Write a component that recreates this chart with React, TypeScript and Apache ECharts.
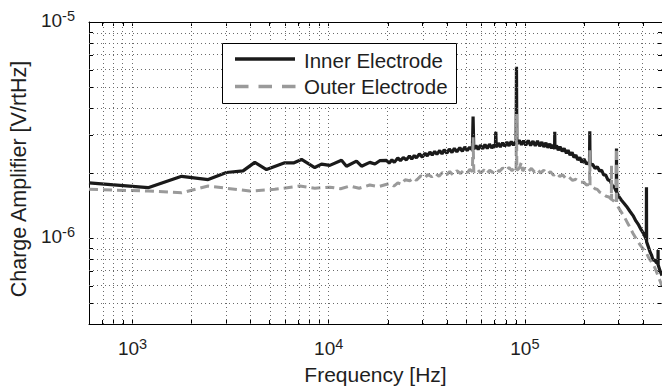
import React, { useEffect, useRef } from "react";
import * as echarts from "echarts";

// ---------- data ----------
const seriesNames = ["Inner Electrode", "Outer Electrode"];
const xAxisTitle = "Frequency [Hz]";
const yAxisTitle = "Charge Amplifier [V/rtHz]";

const xMin = 600;
const xMax = 5e5;
const yMin = 4e-7;
const yMax = 1e-5;

const xLabelDecades = [3, 4, 5];
const yLabelDecades = [-6, -5];

const innerFreq = [
  600, 1200, 1780, 2430, 3010, 3660, 4200, 4820, 5970, 6660, 7270, 8490, 9190,
  10130, 11620, 12320, 13860, 14700, 16200, 17200, 18200,
  19700, 20300, 21000, 21600, 22500, 23200, 24000, 24900, 25800, 26500, 27300,
  28000, 29000, 30000, 31000, 31800, 32800, 33700, 34700, 35600, 36800, 37800,
  38800, 40000, 41200, 42500, 43700, 45000, 46600, 48000, 49400, 50800, 52300,
  54000, 54450, 54900, 56300, 57800, 59300, 61000, 62600, 64300, 66000, 67800,
  69500, 70700, 71070, 71500, 73200, 75000, 77000, 79000, 81000, 83000, 85200,
  87400, 89500, 90200, 90620, 91000, 93500, 96000, 98500, 101000, 104000,
  107000, 110000, 113000, 116000, 119000, 122000, 125000, 128000, 131000,
  134000, 137000, 139500, 141700, 142000, 142300, 145000, 148000, 151000,
  155000, 158500, 162900, 166000, 170000, 174000, 178000, 182000, 186000,
  190500, 195000, 200000, 206000, 213500, 214200, 214900, 221000, 228000,
  234000, 240800, 246000, 252000, 258000, 265000, 272000, 280000, 286000,
  292500, 293100, 293700, 301000, 310000, 320000, 330000, 343000, 356000,
  368000, 380000, 392000, 405000, 416000, 416700, 417400, 426000, 435000,
  443000, 450000, 460000, 468000, 477000, 477500, 478000, 490000, 500000,
];
const innerAmp = [
  1.8e-6, 1.71e-6, 1.93e-6, 1.865e-6, 2.01e-6, 2.045e-6, 2.24e-6, 2.075e-6,
  2.23e-6, 2.23e-6, 2.31e-6, 2.12e-6, 2.2e-6, 2.17e-6, 2.29e-6, 2.15e-6,
  2.27e-6, 2.15e-6, 2.24e-6, 2.2e-6, 2.28e-6,
  2.29e-6, 2.22e-6, 2.3e-6, 2.24e-6, 2.35e-6, 2.28e-6, 2.36e-6, 2.3e-6,
  2.4e-6, 2.32e-6, 2.41e-6, 2.35e-6, 2.45e-6, 2.37e-6, 2.47e-6, 2.4e-6,
  2.5e-6, 2.42e-6, 2.52e-6, 2.44e-6, 2.54e-6, 2.45e-6, 2.56e-6, 2.47e-6,
  2.58e-6, 2.49e-6, 2.6e-6, 2.51e-6, 2.62e-6, 2.52e-6, 2.64e-6, 2.54e-6,
  2.63e-6, 2.56e-6, 3.65e-6, 2.58e-6, 2.68e-6, 2.57e-6, 2.69e-6, 2.59e-6,
  2.71e-6, 2.6e-6, 2.72e-6, 2.61e-6, 2.7e-6, 2.62e-6, 3.1e-6, 2.64e-6,
  2.75e-6, 2.64e-6, 2.76e-6, 2.66e-6, 2.78e-6, 2.67e-6, 2.8e-6, 2.69e-6,
  2.79e-6, 2.7e-6, 6.2e-6, 2.72e-6, 2.84e-6, 2.7e-6, 2.82e-6, 2.69e-6,
  2.83e-6, 2.68e-6, 2.81e-6, 2.67e-6, 2.82e-6, 2.66e-6, 2.78e-6, 2.64e-6,
  2.76e-6, 2.62e-6, 2.73e-6, 2.6e-6, 2.7e-6, 2.58e-6, 3.1e-6, 2.62e-6,
  2.68e-6, 2.55e-6, 2.65e-6, 2.52e-6, 2.6e-6, 2.47e-6, 2.55e-6, 2.42e-6,
  2.49e-6, 2.36e-6, 2.42e-6, 2.3e-6, 2.36e-6, 2.24e-6, 2.32e-6, 2.2e-6,
  2.25e-6, 3.12e-6, 2.17e-6, 2.2e-6, 2.1e-6, 2.14e-6, 2.04e-6, 2.06e-6,
  1.96e-6, 1.96e-6, 1.86e-6, 1.84e-6, 1.74e-6, 1.72e-6, 1.64e-6, 2.6e-6,
  1.63e-6, 1.56e-6, 1.5e-6, 1.45e-6, 1.4e-6, 1.33e-6, 1.27e-6, 1.2e-6,
  1.15e-6, 1.09e-6, 1.04e-6, 9.8e-7, 1.72e-6, 9.6e-7, 9.1e-7, 8.6e-7,
  8.3e-7, 7.9e-7, 7.9e-7, 7.7e-7, 7.6e-7, 8.8e-7, 7.5e-7, 7.0e-7, 6.7e-7,
];

const outerFreq = [
  600, 1200, 1780, 2430, 3010, 3960, 5310, 7120, 8490, 10130, 11500, 12800,
  14300, 16200, 18000, 20500, 21500, 22500, 23500, 24500, 25900, 27000, 28000,
  29500, 30800, 32000, 33500, 35000, 36500, 38000, 39700, 41400, 43000, 45000,
  47000, 49000, 51000, 52400, 54000, 54450, 54900, 57000, 59500, 62000, 64000,
  66200, 68500, 71000, 74000, 77000, 79900, 83000, 86000, 88500, 90200, 90620,
  91000, 93500, 96000, 97500, 100000, 104000, 108000, 112000, 116000, 120000,
  125000, 130000, 135000, 140000, 145000, 150600, 156000, 162000, 168000,
  175000, 182000, 190500, 200000, 206000, 213500, 214200, 214900, 221000,
  228000, 234000, 240800, 250000, 260000, 268000, 276000, 276400, 276800,
  285000, 292500, 293100, 293700, 305000, 320000, 338000, 356000, 372000,
  390000, 405000, 416700, 428000, 440000, 459300, 480000, 500000,
];
const outerAmp = [
  1.68e-6, 1.65e-6, 1.62e-6, 1.74e-6, 1.7e-6, 1.65e-6, 1.68e-6, 1.74e-6,
  1.7e-6, 1.72e-6, 1.69e-6, 1.74e-6, 1.7e-6, 1.76e-6, 1.73e-6, 1.79e-6,
  1.74e-6, 1.8e-6, 1.77e-6, 1.86e-6, 1.84e-6, 1.9e-6, 1.85e-6, 1.94e-6,
  1.89e-6, 1.97e-6, 1.92e-6, 1.99e-6, 1.93e-6, 2.01e-6, 1.95e-6, 2.03e-6,
  1.96e-6, 2.05e-6, 1.99e-6, 2.07e-6, 2.01e-6, 2.08e-6, 2.03e-6, 2.93e-6,
  2.02e-6, 2.09e-6, 2.0e-6, 2.07e-6, 1.99e-6, 2.06e-6, 2.01e-6, 2.09e-6,
  2.03e-6, 2.11e-6, 2.05e-6, 2.12e-6, 2.05e-6, 2.11e-6, 2.05e-6, 3.75e-6,
  2.06e-6, 2.1e-6, 2.24e-6, 2.04e-6, 2.11e-6, 2.03e-6, 2.1e-6, 2.02e-6,
  2.08e-6, 2.0e-6, 2.06e-6, 1.98e-6, 2.03e-6, 1.95e-6, 2.0e-6, 1.93e-6,
  1.96e-6, 1.88e-6, 1.91e-6, 1.85e-6, 1.87e-6, 1.81e-6, 1.81e-6, 1.76e-6,
  1.77e-6, 2.55e-6, 1.74e-6, 1.73e-6, 1.69e-6, 1.68e-6, 1.63e-6, 1.6e-6,
  1.56e-6, 1.55e-6, 1.51e-6, 2.17e-6, 1.51e-6, 1.48e-6, 1.44e-6, 2.6e-6,
  1.43e-6, 1.35e-6, 1.26e-6, 1.15e-6, 1.05e-6, 9.8e-7, 9.2e-7, 8.8e-7,
  8.5e-7, 8.1e-7, 7.8e-7, 7.3e-7, 6.6e-7, 6.0e-7,
];

// ---------- helpers ----------
const FONT = '"Liberation Sans", Arial, Helvetica, sans-serif';
const TEXT = "#1e1e1e";
const INNER_COLOR = "#1a1a1a";
const OUTER_COLOR = "#9a9a9a";

const lg = (v: number) => Math.log10(v);

// 1..9 x 10^n positions strictly inside (min, max), in log10 space
function logGrid(min: number, max: number): number[] {
  const out: number[] = [];
  for (let e = Math.floor(lg(min)); e <= Math.ceil(lg(max)); e++) {
    for (let m = 1; m <= 9; m++) {
      const v = m * Math.pow(10, e);
      if (v > min * 1.0001 && v < max * 0.9999) out.push(lg(v));
    }
  }
  return out;
}

const toPairs = (fs: number[], as: number[]) => fs.map((f, i) => [lg(f), lg(as[i])]);

export default function App() {
  const ref = useRef<HTMLDivElement>(null);

  useEffect(() => {
    if (!ref.current) return;
    const chart = echarts.init(ref.current, undefined, { renderer: "svg" });

    const lx0 = lg(xMin), lx1 = lg(xMax), ly0 = lg(yMin), ly1 = lg(yMax);
    const xGrid = logGrid(xMin, xMax);
    const yGrid = logGrid(yMin, yMax);

    const rich = {
      b: { fontSize: 19, lineHeight: 22, fontFamily: FONT, color: TEXT, verticalAlign: "bottom" },
      s: { fontSize: 14.5, lineHeight: 13, fontFamily: FONT, color: TEXT, verticalAlign: "top" },
    };
    const fmt = (v: number) => `{b|10}{s|${Math.round(v)}}`;

    const axisLine = { show: true, onZero: false, lineStyle: { color: "#000", width: 1 } };
    const tick = (vals: number[]) => ({
      show: true,
      inside: true,
      length: 4,
      customValues: vals,
      lineStyle: { color: "#000", width: 1 },
    });
    const gridStyle = { type: [1, 3], color: "#6a6a6a", width: 1 };

    chart.setOption({
      animation: false,
      backgroundColor: "#fff",
      textStyle: { fontFamily: FONT },
      grid: {
        left: 89,
        right: 0,
        top: 22,
        bottom: 62,
        containLabel: false,
        outerBoundsMode: "none",
      },
      xAxis: [
        {
          type: "value",
          position: "bottom",
          min: lx0,
          max: lx1,
          axisLine,
          axisTick: tick(xGrid),
          splitLine: { show: false },
          axisLabel: {
            show: true,
            customValues: xLabelDecades,
            formatter: fmt,
            rich,
            margin: 12,
          },
          name: xAxisTitle,
          nameLocation: "middle",
          nameGap: 40,
          nameTextStyle: { fontSize: 21, color: TEXT, fontFamily: FONT },
        },
        {
          type: "value",
          position: "top",
          min: lx0,
          max: lx1,
          axisLine,
          axisTick: tick(xGrid),
          splitLine: { show: false },
          axisLabel: { show: false },
        },
      ],
      yAxis: [
        {
          type: "value",
          position: "left",
          min: ly0,
          max: ly1,
          axisLine,
          axisTick: tick(yGrid),
          splitLine: { show: false },
          axisLabel: {
            show: true,
            customValues: yLabelDecades,
            formatter: fmt,
            rich,
            margin: 14,
            padding: [0, 0, 6, 0],
          },
          name: yAxisTitle,
          nameLocation: "middle",
          nameRotate: 90,
          nameGap: 56,
          nameTextStyle: {
            fontSize: 21.5,
            color: TEXT,
            fontFamily: FONT,
            padding: [0, 12, 0, 0],
          },
        },
        {
          type: "value",
          position: "right",
          min: ly0,
          max: ly1,
          axisLine,
          axisTick: tick(yGrid),
          splitLine: { show: false },
          axisLabel: { show: false },
        },
      ],
      series: [
        {
          name: "grid",
          type: "line",
          data: [[lx0, ly0]],
          symbol: "none",
          lineStyle: { width: 0, opacity: 0 },
          silent: true,
          z: 1,
          markLine: {
            silent: true,
            symbol: ["none", "none"],
            label: { show: false },
            emphasis: { disabled: true },
            lineStyle: gridStyle,
            data: [
              ...xGrid.map((v) => ({ xAxis: v })),
              ...yGrid.map((v) => ({ yAxis: v })),
            ],
          },
        },
        {
          name: seriesNames[0],
          type: "line",
          data: toPairs(innerFreq, innerAmp),
          symbol: "none",
          showSymbol: false,
          lineStyle: { color: INNER_COLOR, width: 3.2 },
          z: 3,
        },
        {
          name: seriesNames[1],
          type: "line",
          data: toPairs(outerFreq, outerAmp),
          symbol: "none",
          showSymbol: false,
          lineStyle: { color: OUTER_COLOR, width: 3, type: [9, 5] },
          z: 4,
        },
      ],
      graphic: [
        {
          type: "rect",
          z: 100,
          shape: { x: 222.5, y: 43.5, width: 234, height: 60 },
          style: { fill: "#fff", stroke: "#000", lineWidth: 1 },
        },
        {
          type: "line",
          z: 101,
          shape: { x1: 235, y1: 59, x2: 295, y2: 59 },
          style: { stroke: INNER_COLOR, lineWidth: 3.5 },
        },
        {
          type: "line",
          z: 101,
          shape: { x1: 235, y1: 86.5, x2: 296, y2: 86.5 },
          style: { stroke: OUTER_COLOR, lineWidth: 3.5, lineDash: [13.5, 10] },
        },
        {
          type: "text",
          z: 101,
          x: 304,
          y: 60.5,
          style: {
            text: seriesNames[0],
            fontSize: 20.5,
            fontFamily: FONT,
            fill: TEXT,
            align: "left",
            verticalAlign: "middle",
          },
        },
        {
          type: "text",
          z: 101,
          x: 304,
          y: 86,
          style: {
            text: seriesNames[1],
            fontSize: 20.5,
            fontFamily: FONT,
            fill: TEXT,
            align: "left",
            verticalAlign: "middle",
          },
        },
      ],
    });

    return () => chart.dispose();
  }, []);

  return (
    <div
      ref={ref}
      style={{ position: "fixed", left: 0, top: 0, width: 662, height: 386, background: "#fff" }}
    />
  );
}
